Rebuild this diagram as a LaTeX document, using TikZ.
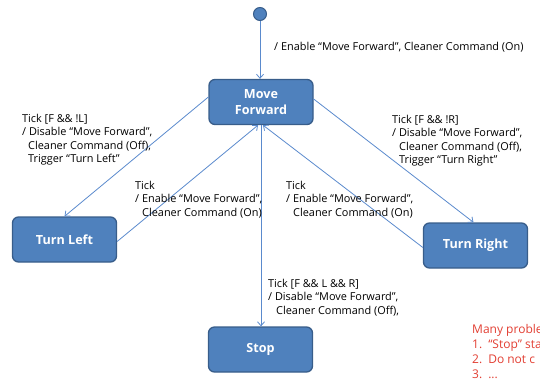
\documentclass[tikz,border=0pt]{standalone}
\usepackage{fontspec}
\setmainfont{Open Sans}
\usetikzlibrary{arrows.meta}
\definecolor{stfill}{RGB}{79,129,189}
\definecolor{stedge}{RGB}{56,93,138}
\definecolor{wire}{RGB}{90,138,205}
\definecolor{note}{RGB}{226,62,50}
\tikzset{
  state/.style={draw=stedge, line width=1.3pt, fill=stfill, rounded corners=6pt,
    minimum width=104pt, minimum height=45pt, text=white, align=center,
    font=\fontsize{12.6}{16}\selectfont\bfseries, inner sep=0pt},
  trans/.style={draw=wire, line width=0.8pt, -{Straight Barb[length=4pt,width=7pt]}},
  lbl/.style={anchor=north west, inner sep=0pt, align=left,
    font=\fontsize{10.9}{13.3}\selectfont},
  warn/.style={anchor=north west, inner sep=0pt, align=left, text=note,
    font=\fontsize{12}{15}\selectfont},
}
\begin{document}
\begin{tikzpicture}[x=1pt, y=-1pt]
  \useasboundingbox (0,0) rectangle (540,381);
  \begin{scope}
  \clip (0,0) rectangle (540,381);

  % states
  \node[circle, draw=stedge, line width=1pt, fill=stfill, minimum size=13pt, inner sep=0pt] (init) at (260,14) {};
  \node[state] (MF) at (261,102) {Move\\Forward};
  \node[state] (TL) at (64.5,239.5) {Turn Left};
  \node[state] (TR) at (475.5,245.5) {Turn Right};
  \node[state] (ST) at (260.5,349.5) {Stop};

  % transitions
  \draw[trans] (init) -- (MF.north -| init);
  \draw[trans] ([yshift=5pt]MF.west) -- (TL.north);
  \draw[trans] ([yshift=-2pt]TL.east) -- ([xshift=-3pt]MF.south);
  \draw[trans] ([yshift=3pt]MF.east) -- ([xshift=-2pt]TR.north);
  \draw[trans] ([yshift=-2pt]TR.west) -- ([xshift=2pt]MF.south);
  \draw[trans] (MF.south) -- (ST.north -| MF.south);

  % transition labels
  \node[lbl, anchor=west] (l0) at (274,47) {/ Enable “Move Forward”, Cleaner Command (On)};
  \node[lbl] (l1) at (22,114) {Tick [F \&\& !L]\\/ Disable “Move Forward”,\\\hspace*{6pt}Cleaner Command (Off),\\\hspace*{6pt}Trigger “Turn Left”};
  \node[lbl] (l2) at (135,181) {Tick\\/ Enable “Move Forward”,\\\hspace*{7pt}Cleaner Command (On)};
  \node[lbl] (l3) at (392,115) {Tick [F \&\& !R]\\/ Disable “Move Forward”,\\\hspace*{7pt}Cleaner Command (Off),\\\hspace*{7pt}Trigger “Turn Right”};
  \node[lbl] (l4) at (286,181) {Tick\\/ Enable “Move Forward”,\\\hspace*{7pt}Cleaner Command (On)};
  \node[lbl] (l5) at (268,279) {Tick [F \&\& L \&\& R]\\/ Disable “Move Forward”,\\\hspace*{8pt}Cleaner Command (Off),};

  % notes
  \node[warn] (n1) at (472,324) {Many problems\\1.\hspace*{6pt}“Stop” state\\2.\hspace*{6pt}Do not c\\3.\hspace*{6pt}...};
  \end{scope}
\end{tikzpicture}
\end{document}
